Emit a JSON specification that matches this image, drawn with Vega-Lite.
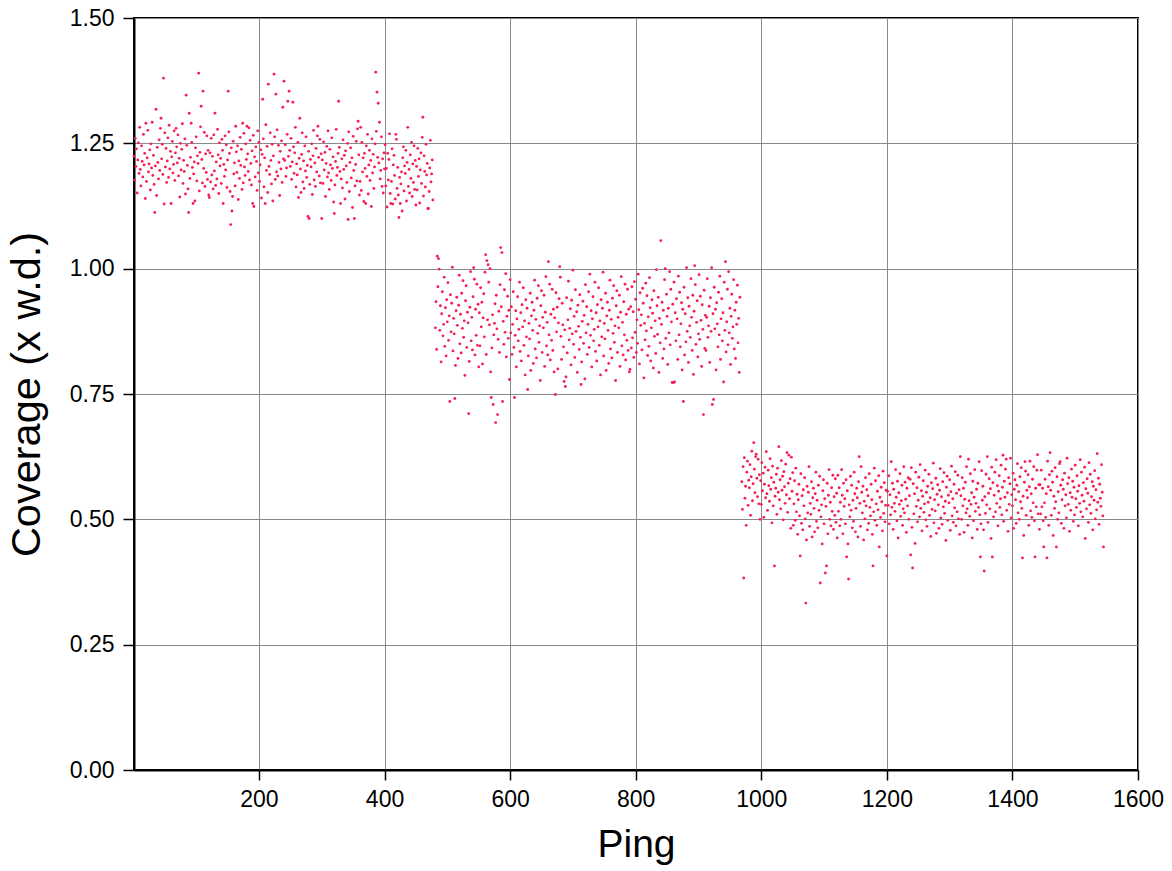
{"$schema":"https://vega.github.io/schema/vega-lite/v6.json","width":1004,"height":752,"autosize":{"type":"none"},"padding":{"left":134,"top":18,"right":34,"bottom":101},"background":"white","config":{"view":{"stroke":"black","strokeWidth":2},"font":"Liberation Sans"},
"data":{"values":[
{"p":1,"c":1.224},{"p":2,"c":1.177},{"p":3,"c":1.260},{"p":4,"c":1.204},{"p":5,"c":1.239},{"p":6,"c":1.151},{"p":7,"c":1.217},{"p":8,"c":1.251},{"p":9,"c":1.190},{"p":10,"c":1.282},
{"p":11,"c":1.198},{"p":12,"c":1.165},{"p":13,"c":1.245},{"p":14,"c":1.214},{"p":15,"c":1.183},{"p":16,"c":1.268},{"p":17,"c":1.207},{"p":18,"c":1.230},{"p":19,"c":1.140},{"p":20,"c":1.290},
{"p":21,"c":1.174},{"p":22,"c":1.221},{"p":23,"c":1.276},{"p":24,"c":1.193},{"p":25,"c":1.209},{"p":26,"c":1.237},{"p":27,"c":1.157},{"p":28,"c":1.249},{"p":29,"c":1.201},{"p":30,"c":1.292},
{"p":31,"c":1.186},{"p":32,"c":1.226},{"p":33,"c":1.168},{"p":34,"c":1.112},{"p":35,"c":1.205},{"p":36,"c":1.318},{"p":37,"c":1.146},{"p":38,"c":1.242},{"p":39,"c":1.212},{"p":40,"c":1.179},
{"p":41,"c":1.257},{"p":42,"c":1.196},{"p":43,"c":1.280},{"p":44,"c":1.300},{"p":45,"c":1.219},{"p":46,"c":1.248},{"p":47,"c":1.188},{"p":48,"c":1.380},{"p":49,"c":1.129},{"p":50,"c":1.271},
{"p":51,"c":1.203},{"p":52,"c":1.240},{"p":53,"c":1.172},{"p":54,"c":1.215},{"p":55,"c":1.261},{"p":56,"c":1.182},{"p":57,"c":1.286},{"p":58,"c":1.199},{"p":59,"c":1.234},{"p":60,"c":1.130},
{"p":61,"c":1.223},{"p":62,"c":1.254},{"p":63,"c":1.191},{"p":64,"c":1.208},{"p":65,"c":1.275},{"p":66,"c":1.176},{"p":67,"c":1.231},{"p":68,"c":1.280},{"p":69,"c":1.243},{"p":70,"c":1.211},
{"p":71,"c":1.267},{"p":72,"c":1.185},{"p":73,"c":1.220},{"p":74,"c":1.143},{"p":75,"c":1.250},{"p":76,"c":1.197},{"p":77,"c":1.238},{"p":78,"c":1.289},{"p":79,"c":1.170},{"p":80,"c":1.216},
{"p":81,"c":1.194},{"p":82,"c":1.259},{"p":83,"c":1.149},{"p":84,"c":1.346},{"p":85,"c":1.246},{"p":86,"c":1.206},{"p":87,"c":1.159},{"p":88,"c":1.112},{"p":89,"c":1.310},{"p":90,"c":1.180},
{"p":91,"c":1.222},{"p":92,"c":1.290},{"p":93,"c":1.252},{"p":94,"c":1.202},{"p":95,"c":1.130},{"p":96,"c":1.189},{"p":97,"c":1.213},{"p":98,"c":1.135},{"p":99,"c":1.241},{"p":100,"c":1.263},
{"p":101,"c":1.175},{"p":102,"c":1.225},{"p":103,"c":1.210},{"p":104,"c":1.390},{"p":105,"c":1.155},{"p":106,"c":1.232},{"p":107,"c":1.283},{"p":108,"c":1.324},{"p":109,"c":1.218},{"p":110,"c":1.171},
{"p":111,"c":1.354},{"p":112,"c":1.200},{"p":113,"c":1.272},{"p":114,"c":1.164},{"p":115,"c":1.229},{"p":116,"c":1.192},{"p":117,"c":1.265},{"p":118,"c":1.178},{"p":119,"c":1.236},{"p":120,"c":1.147},
{"p":121,"c":1.142},{"p":122,"c":1.231},{"p":123,"c":1.173},{"p":124,"c":1.260},{"p":125,"c":1.187},{"p":126,"c":1.224},{"p":127,"c":1.159},{"p":128,"c":1.267},{"p":129,"c":1.195},{"p":130,"c":1.310},
{"p":131,"c":1.166},{"p":132,"c":1.213},{"p":133,"c":1.179},{"p":134,"c":1.278},{"p":135,"c":1.227},{"p":136,"c":1.150},{"p":137,"c":1.251},{"p":138,"c":1.205},{"p":139,"c":1.220},{"p":140,"c":1.170},
{"p":141,"c":1.258},{"p":142,"c":1.236},{"p":143,"c":1.130},{"p":144,"c":1.208},{"p":145,"c":1.184},{"p":146,"c":1.265},{"p":147,"c":1.197},{"p":148,"c":1.247},{"p":149,"c":1.162},{"p":150,"c":1.217},
{"p":151,"c":1.354},{"p":152,"c":1.273},{"p":153,"c":1.230},{"p":154,"c":1.154},{"p":155,"c":1.088},{"p":156,"c":1.241},{"p":157,"c":1.115},{"p":158,"c":1.144},{"p":159,"c":1.254},{"p":160,"c":1.189},
{"p":161,"c":1.211},{"p":162,"c":1.165},{"p":163,"c":1.284},{"p":164,"c":1.233},{"p":165,"c":1.192},{"p":166,"c":1.245},{"p":167,"c":1.138},{"p":168,"c":1.215},{"p":169,"c":1.180},{"p":170,"c":1.262},
{"p":171,"c":1.206},{"p":172,"c":1.238},{"p":173,"c":1.158},{"p":174,"c":1.290},{"p":175,"c":1.171},{"p":176,"c":1.270},{"p":177,"c":1.203},{"p":178,"c":1.186},{"p":179,"c":1.249},{"p":180,"c":1.218},
{"p":181,"c":1.284},{"p":182,"c":1.229},{"p":183,"c":1.194},{"p":184,"c":1.281},{"p":185,"c":1.177},{"p":186,"c":1.256},{"p":187,"c":1.210},{"p":188,"c":1.167},{"p":189,"c":1.235},{"p":190,"c":1.130},
{"p":191,"c":1.266},{"p":192,"c":1.124},{"p":193,"c":1.223},{"p":194,"c":1.183},{"p":195,"c":1.243},{"p":196,"c":1.214},{"p":197,"c":1.156},{"p":198,"c":1.275},{"p":199,"c":1.191},{"p":200,"c":1.252},
{"p":201,"c":1.174},{"p":202,"c":1.207},{"p":203,"c":1.237},{"p":204,"c":1.141},{"p":205,"c":1.228},{"p":206,"c":1.338},{"p":207,"c":1.259},{"p":208,"c":1.163},{"p":209,"c":1.221},{"p":210,"c":1.130},
{"p":211,"c":1.287},{"p":212,"c":1.196},{"p":213,"c":1.244},{"p":214,"c":1.152},{"p":215,"c":1.368},{"p":216,"c":1.204},{"p":217,"c":1.188},{"p":218,"c":1.271},{"p":219,"c":1.216},{"p":220,"c":1.169},
{"p":221,"c":1.248},{"p":222,"c":1.135},{"p":223,"c":1.225},{"p":224,"c":1.388},{"p":225,"c":1.263},{"p":226,"c":1.178},{"p":227,"c":1.348},{"p":228,"c":1.193},{"p":229,"c":1.277},{"p":230,"c":1.185},
{"p":231,"c":1.246},{"p":232,"c":1.212},{"p":233,"c":1.146},{"p":234,"c":1.234},{"p":235,"c":1.199},{"p":236,"c":1.255},{"p":237,"c":1.172},{"p":238,"c":1.322},{"p":239,"c":1.219},{"p":240,"c":1.374},
{"p":241,"c":1.216},{"p":242,"c":1.247},{"p":243,"c":1.184},{"p":244,"c":1.201},{"p":245,"c":1.268},{"p":246,"c":1.334},{"p":247,"c":1.224},{"p":248,"c":1.354},{"p":249,"c":1.236},{"p":250,"c":1.204},
{"p":251,"c":1.260},{"p":252,"c":1.178},{"p":253,"c":1.213},{"p":254,"c":1.332},{"p":255,"c":1.243},{"p":256,"c":1.190},{"p":257,"c":1.231},{"p":258,"c":1.282},{"p":259,"c":1.163},{"p":260,"c":1.209},
{"p":261,"c":1.187},{"p":262,"c":1.252},{"p":263,"c":1.142},{"p":264,"c":1.220},{"p":265,"c":1.300},{"p":266,"c":1.199},{"p":267,"c":1.152},{"p":268,"c":1.228},{"p":269,"c":1.271},{"p":270,"c":1.173},
{"p":271,"c":1.215},{"p":272,"c":1.160},{"p":273,"c":1.245},{"p":274,"c":1.195},{"p":275,"c":1.263},{"p":276,"c":1.182},{"p":277,"c":1.206},{"p":278,"c":1.104},{"p":279,"c":1.234},{"p":280,"c":1.100},
{"p":281,"c":1.168},{"p":282,"c":1.218},{"p":283,"c":1.203},{"p":284,"c":1.249},{"p":285,"c":1.148},{"p":286,"c":1.225},{"p":287,"c":1.276},{"p":288,"c":1.177},{"p":289,"c":1.211},{"p":290,"c":1.164},
{"p":291,"c":1.240},{"p":292,"c":1.193},{"p":293,"c":1.265},{"p":294,"c":1.284},{"p":295,"c":1.222},{"p":296,"c":1.185},{"p":297,"c":1.258},{"p":298,"c":1.171},{"p":299,"c":1.229},{"p":300,"c":1.100},
{"p":301,"c":1.217},{"p":302,"c":1.170},{"p":303,"c":1.253},{"p":304,"c":1.197},{"p":305,"c":1.232},{"p":306,"c":1.144},{"p":307,"c":1.210},{"p":308,"c":1.244},{"p":309,"c":1.183},{"p":310,"c":1.275},
{"p":311,"c":1.191},{"p":312,"c":1.158},{"p":313,"c":1.238},{"p":314,"c":1.207},{"p":315,"c":1.176},{"p":316,"c":1.261},{"p":317,"c":1.200},{"p":318,"c":1.223},{"p":319,"c":1.133},{"p":320,"c":1.110},
{"p":321,"c":1.167},{"p":322,"c":1.214},{"p":323,"c":1.278},{"p":324,"c":1.186},{"p":325,"c":1.202},{"p":326,"c":1.230},{"p":327,"c":1.334},{"p":328,"c":1.242},{"p":329,"c":1.194},{"p":330,"c":1.130},
{"p":331,"c":1.179},{"p":332,"c":1.219},{"p":333,"c":1.161},{"p":334,"c":1.257},{"p":335,"c":1.198},{"p":336,"c":1.226},{"p":337,"c":1.139},{"p":338,"c":1.235},{"p":339,"c":1.205},{"p":340,"c":1.172},
{"p":341,"c":1.250},{"p":342,"c":1.098},{"p":343,"c":1.273},{"p":344,"c":1.154},{"p":345,"c":1.212},{"p":346,"c":1.241},{"p":347,"c":1.181},{"p":348,"c":1.221},{"p":349,"c":1.122},{"p":350,"c":1.264},
{"p":351,"c":1.196},{"p":352,"c":1.100},{"p":353,"c":1.165},{"p":354,"c":1.208},{"p":355,"c":1.254},{"p":356,"c":1.175},{"p":357,"c":1.279},{"p":358,"c":1.294},{"p":359,"c":1.227},{"p":360,"c":1.147},
{"p":361,"c":1.174},{"p":362,"c":1.282},{"p":363,"c":1.156},{"p":364,"c":1.252},{"p":365,"c":1.193},{"p":366,"c":1.221},{"p":367,"c":1.134},{"p":368,"c":1.230},{"p":369,"c":1.200},{"p":370,"c":1.130},
{"p":371,"c":1.245},{"p":372,"c":1.184},{"p":373,"c":1.268},{"p":374,"c":1.149},{"p":375,"c":1.207},{"p":376,"c":1.236},{"p":377,"c":1.176},{"p":378,"c":1.216},{"p":379,"c":1.124},{"p":380,"c":1.259},
{"p":381,"c":1.191},{"p":382,"c":1.228},{"p":383,"c":1.160},{"p":384,"c":1.203},{"p":385,"c":1.249},{"p":386,"c":1.392},{"p":387,"c":1.274},{"p":388,"c":1.352},{"p":389,"c":1.222},{"p":390,"c":1.330},
{"p":391,"c":1.211},{"p":392,"c":1.292},{"p":393,"c":1.179},{"p":394,"c":1.196},{"p":395,"c":1.263},{"p":396,"c":1.164},{"p":397,"c":1.219},{"p":398,"c":1.151},{"p":399,"c":1.231},{"p":400,"c":1.199},
{"p":401,"c":1.247},{"p":402,"c":1.165},{"p":403,"c":1.200},{"p":404,"c":1.123},{"p":405,"c":1.230},{"p":406,"c":1.177},{"p":407,"c":1.218},{"p":408,"c":1.269},{"p":409,"c":1.150},{"p":410,"c":1.130},
{"p":411,"c":1.174},{"p":412,"c":1.239},{"p":413,"c":1.129},{"p":414,"c":1.207},{"p":415,"c":1.226},{"p":416,"c":1.186},{"p":417,"c":1.139},{"p":418,"c":1.268},{"p":419,"c":1.258},{"p":420,"c":1.160},
{"p":421,"c":1.202},{"p":422,"c":1.147},{"p":423,"c":1.102},{"p":424,"c":1.182},{"p":425,"c":1.130},{"p":426,"c":1.169},{"p":427,"c":1.193},{"p":428,"c":1.115},{"p":429,"c":1.221},{"p":430,"c":1.243},
{"p":431,"c":1.155},{"p":432,"c":1.205},{"p":433,"c":1.190},{"p":434,"c":1.236},{"p":435,"c":1.135},{"p":436,"c":1.212},{"p":437,"c":1.282},{"p":438,"c":1.164},{"p":439,"c":1.198},{"p":440,"c":1.151},
{"p":441,"c":1.227},{"p":442,"c":1.180},{"p":443,"c":1.252},{"p":444,"c":1.144},{"p":445,"c":1.209},{"p":446,"c":1.172},{"p":447,"c":1.245},{"p":448,"c":1.158},{"p":449,"c":1.216},{"p":450,"c":1.127},
{"p":451,"c":1.204},{"p":452,"c":1.157},{"p":453,"c":1.240},{"p":454,"c":1.184},{"p":455,"c":1.219},{"p":456,"c":1.131},{"p":457,"c":1.197},{"p":458,"c":1.231},{"p":459,"c":1.170},{"p":460,"c":1.262},
{"p":461,"c":1.302},{"p":462,"c":1.145},{"p":463,"c":1.225},{"p":464,"c":1.194},{"p":465,"c":1.163},{"p":466,"c":1.248},{"p":467,"c":1.187},{"p":468,"c":1.210},{"p":469,"c":1.120},{"p":470,"c":1.120},
{"p":471,"c":1.154},{"p":472,"c":1.201},{"p":473,"c":1.256},{"p":474,"c":1.173},{"p":475,"c":1.189},{"p":476,"c":1.217},{"p":477,"c":1.137},
{"p":481,"c":0.882},{"p":482,"c":0.934},{"p":483,"c":0.839},{"p":484,"c":1.025},{"p":485,"c":0.964},{"p":486,"c":1.020},{"p":487,"c":0.999},{"p":488,"c":0.877},{"p":489,"c":0.926},{"p":490,"c":0.814},
{"p":491,"c":0.910},{"p":492,"c":0.954},{"p":493,"c":0.866},{"p":494,"c":0.889},{"p":495,"c":0.983},{"p":496,"c":0.845},{"p":497,"c":0.922},{"p":498,"c":0.826},{"p":499,"c":0.938},{"p":500,"c":0.894},
{"p":501,"c":0.972},{"p":502,"c":0.857},{"p":503,"c":0.906},{"p":504,"c":0.735},{"p":505,"c":0.948},{"p":506,"c":0.874},{"p":507,"c":0.931},{"p":508,"c":1.003},{"p":509,"c":0.836},{"p":510,"c":0.901},
{"p":511,"c":0.870},{"p":512,"c":0.741},{"p":513,"c":0.807},{"p":514,"c":0.916},{"p":515,"c":0.943},{"p":516,"c":0.887},{"p":517,"c":0.821},{"p":518,"c":0.927},{"p":519,"c":0.987},{"p":520,"c":0.850},
{"p":521,"c":0.909},{"p":522,"c":0.832},{"p":523,"c":0.951},{"p":524,"c":0.881},{"p":525,"c":0.976},{"p":526,"c":0.863},{"p":527,"c":0.896},{"p":528,"c":0.787},{"p":529,"c":0.936},{"p":530,"c":0.966},
{"p":531,"c":0.843},{"p":532,"c":0.913},{"p":533,"c":0.892},{"p":534,"c":0.711},{"p":535,"c":0.815},{"p":536,"c":0.923},{"p":537,"c":0.994},{"p":538,"c":0.856},{"p":539,"c":0.903},{"p":540,"c":0.838},
{"p":541,"c":0.944},{"p":542,"c":1.002},{"p":543,"c":0.979},{"p":544,"c":0.828},{"p":545,"c":0.919},{"p":546,"c":0.867},{"p":547,"c":0.969},{"p":548,"c":0.847},{"p":549,"c":0.929},{"p":550,"c":0.804},
{"p":551,"c":0.912},{"p":552,"c":0.846},{"p":553,"c":0.962},{"p":554,"c":0.884},{"p":555,"c":0.933},{"p":556,"c":0.810},{"p":557,"c":0.902},{"p":558,"c":0.950},{"p":559,"c":0.864},{"p":560,"c":0.993},
{"p":561,"c":1.028},{"p":562,"c":0.829},{"p":563,"c":1.016},{"p":564,"c":0.898},{"p":565,"c":1.008},{"p":566,"c":0.973},{"p":567,"c":0.888},{"p":568,"c":1.000},{"p":569,"c":0.794},{"p":570,"c":0.743},
{"p":571,"c":0.842},{"p":572,"c":0.908},{"p":573,"c":0.729},{"p":574,"c":0.868},{"p":575,"c":0.891},{"p":576,"c":0.930},{"p":577,"c":0.693},{"p":578,"c":0.947},{"p":579,"c":0.880},{"p":580,"c":0.709},
{"p":581,"c":0.859},{"p":582,"c":0.915},{"p":583,"c":0.833},{"p":584,"c":0.968},{"p":585,"c":1.042},{"p":586,"c":0.924},{"p":587,"c":1.032},{"p":588,"c":0.735},{"p":589,"c":0.895},{"p":590,"c":0.849},
{"p":591,"c":0.958},{"p":592,"c":0.873},{"p":593,"c":0.990},{"p":594,"c":0.824},{"p":595,"c":0.905},{"p":596,"c":0.945},{"p":597,"c":0.861},{"p":598,"c":0.917},{"p":599,"c":0.779},{"p":600,"c":0.978},
{"p":601,"c":0.872},{"p":602,"c":0.924},{"p":603,"c":0.829},{"p":604,"c":0.889},{"p":605,"c":0.954},{"p":606,"c":0.843},{"p":607,"c":0.743},{"p":608,"c":0.867},{"p":609,"c":0.916},{"p":610,"c":0.804},
{"p":611,"c":0.900},{"p":612,"c":0.944},{"p":613,"c":0.856},{"p":614,"c":0.879},{"p":615,"c":0.973},{"p":616,"c":0.835},{"p":617,"c":0.912},{"p":618,"c":0.816},{"p":619,"c":0.928},{"p":620,"c":0.884},
{"p":621,"c":0.962},{"p":622,"c":0.847},{"p":623,"c":0.896},{"p":624,"c":0.788},{"p":625,"c":0.938},{"p":626,"c":0.864},{"p":627,"c":0.921},{"p":628,"c":0.759},{"p":629,"c":0.826},{"p":630,"c":0.891},
{"p":631,"c":0.860},{"p":632,"c":0.951},{"p":633,"c":0.797},{"p":634,"c":0.906},{"p":635,"c":0.933},{"p":636,"c":0.877},{"p":637,"c":0.811},{"p":638,"c":0.917},{"p":639,"c":0.977},{"p":640,"c":0.840},
{"p":641,"c":0.899},{"p":642,"c":0.822},{"p":643,"c":0.941},{"p":644,"c":0.871},{"p":645,"c":0.966},{"p":646,"c":0.853},{"p":647,"c":0.886},{"p":648,"c":0.777},{"p":649,"c":0.926},{"p":650,"c":0.956},
{"p":651,"c":0.833},{"p":652,"c":0.903},{"p":653,"c":0.882},{"p":654,"c":0.947},{"p":655,"c":0.805},{"p":656,"c":0.913},{"p":657,"c":0.984},{"p":658,"c":0.846},{"p":659,"c":0.893},{"p":660,"c":0.828},
{"p":661,"c":1.014},{"p":662,"c":0.868},{"p":663,"c":0.969},{"p":664,"c":0.818},{"p":665,"c":0.909},{"p":666,"c":0.857},{"p":667,"c":0.959},{"p":668,"c":0.837},{"p":669,"c":0.919},{"p":670,"c":0.794},
{"p":671,"c":0.902},{"p":672,"c":0.749},{"p":673,"c":0.952},{"p":674,"c":0.874},{"p":675,"c":0.923},{"p":676,"c":0.800},{"p":677,"c":0.892},{"p":678,"c":0.940},{"p":679,"c":1.004},{"p":680,"c":0.983},
{"p":681,"c":0.865},{"p":682,"c":0.819},{"p":683,"c":0.931},{"p":684,"c":0.888},{"p":685,"c":0.844},{"p":686,"c":0.775},{"p":687,"c":0.878},{"p":688,"c":0.765},{"p":689,"c":0.784},{"p":690,"c":0.942},
{"p":691,"c":0.832},{"p":692,"c":0.898},{"p":693,"c":0.975},{"p":694,"c":0.858},{"p":695,"c":0.881},{"p":696,"c":0.920},{"p":697,"c":0.808},{"p":698,"c":0.937},{"p":699,"c":0.870},{"p":700,"c":0.997},
{"p":701,"c":0.849},{"p":702,"c":0.905},{"p":703,"c":0.823},{"p":704,"c":0.958},{"p":705,"c":0.875},{"p":706,"c":0.914},{"p":707,"c":0.793},{"p":708,"c":0.927},{"p":709,"c":0.885},{"p":710,"c":0.839},
{"p":711,"c":0.948},{"p":712,"c":0.863},{"p":713,"c":0.769},{"p":714,"c":0.814},{"p":715,"c":0.895},{"p":716,"c":0.935},{"p":717,"c":0.851},{"p":718,"c":0.907},{"p":719,"c":0.780},{"p":720,"c":0.968},
{"p":721,"c":0.872},{"p":722,"c":0.924},{"p":723,"c":0.829},{"p":724,"c":0.889},{"p":725,"c":0.954},{"p":726,"c":0.843},{"p":727,"c":0.989},{"p":728,"c":0.867},{"p":729,"c":0.916},{"p":730,"c":0.804},
{"p":731,"c":0.900},{"p":732,"c":0.944},{"p":733,"c":0.856},{"p":734,"c":0.879},{"p":735,"c":0.973},{"p":736,"c":0.835},{"p":737,"c":0.912},{"p":738,"c":0.816},{"p":739,"c":0.928},{"p":740,"c":0.884},
{"p":741,"c":0.962},{"p":742,"c":0.847},{"p":743,"c":0.896},{"p":744,"c":0.788},{"p":745,"c":0.938},{"p":746,"c":0.864},{"p":747,"c":0.921},{"p":748,"c":0.993},{"p":749,"c":0.826},{"p":750,"c":0.891},
{"p":751,"c":0.860},{"p":752,"c":0.951},{"p":753,"c":0.797},{"p":754,"c":0.906},{"p":755,"c":0.933},{"p":756,"c":0.877},{"p":757,"c":0.811},{"p":758,"c":0.917},{"p":759,"c":0.977},{"p":760,"c":0.840},
{"p":761,"c":0.899},{"p":762,"c":0.822},{"p":763,"c":0.941},{"p":764,"c":0.871},{"p":765,"c":0.966},{"p":766,"c":0.853},{"p":767,"c":0.886},{"p":768,"c":0.777},{"p":769,"c":0.926},{"p":770,"c":0.956},
{"p":771,"c":0.833},{"p":772,"c":0.903},{"p":773,"c":0.882},{"p":774,"c":0.947},{"p":775,"c":0.805},{"p":776,"c":0.913},{"p":777,"c":0.984},{"p":778,"c":0.846},{"p":779,"c":0.893},{"p":780,"c":0.828},
{"p":781,"c":0.934},{"p":782,"c":0.868},{"p":783,"c":0.969},{"p":784,"c":0.818},{"p":785,"c":0.909},{"p":786,"c":0.857},{"p":787,"c":0.959},{"p":788,"c":0.837},{"p":789,"c":0.919},{"p":790,"c":0.794},
{"p":791,"c":0.799},{"p":792,"c":0.924},{"p":793,"c":0.842},{"p":794,"c":0.964},{"p":795,"c":0.862},{"p":796,"c":0.914},{"p":797,"c":0.823},{"p":798,"c":0.974},{"p":799,"c":0.873},{"p":800,"c":0.939},
{"p":801,"c":0.833},{"p":802,"c":0.898},{"p":803,"c":0.851},{"p":804,"c":0.989},{"p":805,"c":0.918},{"p":806,"c":0.810},{"p":807,"c":0.952},{"p":808,"c":0.887},{"p":809,"c":0.908},{"p":810,"c":0.838},
{"p":811,"c":0.961},{"p":812,"c":0.931},{"p":813,"c":0.782},{"p":814,"c":0.891},{"p":815,"c":0.858},{"p":816,"c":0.971},{"p":817,"c":0.876},{"p":818,"c":0.946},{"p":819,"c":0.827},{"p":820,"c":0.904},
{"p":821,"c":0.845},{"p":822,"c":0.982},{"p":823,"c":0.922},{"p":824,"c":0.816},{"p":825,"c":0.882},{"p":826,"c":0.938},{"p":827,"c":0.911},{"p":828,"c":0.802},{"p":829,"c":0.956},{"p":830,"c":0.865},
{"p":831,"c":0.896},{"p":832,"c":0.831},{"p":833,"c":0.998},{"p":834,"c":0.926},{"p":835,"c":0.869},{"p":836,"c":0.943},{"p":837,"c":0.793},{"p":838,"c":0.901},{"p":839,"c":0.852},{"p":840,"c":1.056},
{"p":841,"c":0.889},{"p":842,"c":0.933},{"p":843,"c":0.821},{"p":844,"c":0.917},{"p":845,"c":0.840},{"p":846,"c":0.978},{"p":847,"c":1.000},{"p":848,"c":0.861},{"p":849,"c":0.949},{"p":850,"c":0.905},
{"p":851,"c":0.809},{"p":852,"c":0.921},{"p":853,"c":0.872},{"p":854,"c":0.994},{"p":855,"c":0.848},{"p":856,"c":0.959},{"p":857,"c":0.894},{"p":858,"c":0.773},{"p":859,"c":0.929},{"p":860,"c":0.773},
{"p":861,"c":0.973},{"p":862,"c":0.774},{"p":863,"c":0.912},{"p":864,"c":0.856},{"p":865,"c":0.940},{"p":866,"c":0.900},{"p":867,"c":0.819},{"p":868,"c":0.985},{"p":869,"c":0.868},{"p":870,"c":0.953},
{"p":871,"c":0.844},{"p":872,"c":0.890},{"p":873,"c":0.932},{"p":874,"c":0.798},{"p":875,"c":0.919},{"p":876,"c":0.735},{"p":877,"c":0.963},{"p":878,"c":0.828},{"p":879,"c":0.910},{"p":880,"c":0.854},
{"p":881,"c":1.002},{"p":882,"c":0.875},{"p":883,"c":0.942},{"p":884,"c":0.813},{"p":885,"c":0.925},{"p":886,"c":0.886},{"p":887,"c":0.863},{"p":888,"c":0.980},{"p":889,"c":0.903},{"p":890,"c":0.837},
{"p":891,"c":0.947},{"p":892,"c":0.789},{"p":893,"c":0.915},{"p":894,"c":1.006},{"p":895,"c":0.968},{"p":896,"c":0.849},{"p":897,"c":0.893},{"p":898,"c":0.936},{"p":899,"c":0.824},{"p":900,"c":0.870},
{"p":901,"c":0.988},{"p":902,"c":0.859},{"p":903,"c":0.945},{"p":904,"c":0.897},{"p":905,"c":0.805},{"p":906,"c":0.928},{"p":907,"c":0.879},{"p":908,"c":0.709},{"p":909,"c":0.957},{"p":910,"c":0.841},
{"p":911,"c":0.907},{"p":912,"c":0.837},{"p":913,"c":0.903},{"p":914,"c":0.980},{"p":915,"c":0.863},{"p":916,"c":0.886},{"p":917,"c":0.925},{"p":918,"c":0.813},{"p":919,"c":0.942},{"p":920,"c":0.875},
{"p":921,"c":1.002},{"p":922,"c":0.729},{"p":923,"c":0.910},{"p":924,"c":0.739},{"p":925,"c":0.963},{"p":926,"c":0.880},{"p":927,"c":0.919},{"p":928,"c":0.798},{"p":929,"c":0.932},{"p":930,"c":0.890},
{"p":931,"c":0.844},{"p":932,"c":0.953},{"p":933,"c":0.868},{"p":934,"c":0.985},{"p":935,"c":0.819},{"p":936,"c":0.900},{"p":937,"c":0.940},{"p":938,"c":0.856},{"p":939,"c":0.912},{"p":940,"c":0.774},
{"p":941,"c":0.973},{"p":942,"c":0.877},{"p":943,"c":1.014},{"p":944,"c":0.834},{"p":945,"c":0.894},{"p":946,"c":0.959},{"p":947,"c":0.848},{"p":948,"c":0.994},{"p":949,"c":0.872},{"p":950,"c":0.921},
{"p":951,"c":0.809},{"p":952,"c":0.905},{"p":953,"c":0.949},{"p":954,"c":0.861},{"p":955,"c":0.884},{"p":956,"c":0.978},{"p":957,"c":0.840},{"p":958,"c":0.917},{"p":959,"c":0.821},{"p":960,"c":0.933},
{"p":961,"c":0.889},{"p":962,"c":0.967},{"p":963,"c":0.852},{"p":964,"c":0.901},{"p":965,"c":0.793},{"p":966,"c":0.943},
{"p":969,"c":0.575},{"p":970,"c":0.520},{"p":971,"c":0.605},{"p":972,"c":0.383},{"p":973,"c":0.623},{"p":974,"c":0.542},{"p":975,"c":0.566},{"p":976,"c":0.488},{"p":977,"c":0.594},{"p":978,"c":0.616},
{"p":979,"c":0.528},{"p":980,"c":0.578},{"p":981,"c":0.563},{"p":982,"c":0.609},{"p":983,"c":0.508},{"p":984,"c":0.585},{"p":985,"c":0.636},{"p":986,"c":0.537},{"p":987,"c":0.571},{"p":988,"c":0.653},
{"p":989,"c":0.600},{"p":990,"c":0.553},{"p":991,"c":0.625},{"p":992,"c":0.630},{"p":993,"c":0.582},{"p":994,"c":0.545},{"p":995,"c":0.620},{"p":996,"c":0.531},{"p":997,"c":0.589},{"p":998,"c":0.500},
{"p":999,"c":0.577},{"p":1000,"c":0.530},{"p":1001,"c":0.613},{"p":1002,"c":0.557},{"p":1003,"c":0.592},{"p":1004,"c":0.504},{"p":1005,"c":0.570},{"p":1006,"c":0.604},{"p":1007,"c":0.543},{"p":1008,"c":0.635},
{"p":1009,"c":0.551},{"p":1010,"c":0.518},{"p":1011,"c":0.598},{"p":1012,"c":0.567},{"p":1013,"c":0.536},{"p":1014,"c":0.621},{"p":1015,"c":0.560},{"p":1016,"c":0.583},{"p":1017,"c":0.493},{"p":1018,"c":0.606},
{"p":1019,"c":0.527},{"p":1020,"c":0.574},{"p":1021,"c":0.407},{"p":1022,"c":0.546},{"p":1023,"c":0.562},{"p":1024,"c":0.590},{"p":1025,"c":0.510},{"p":1026,"c":0.602},{"p":1027,"c":0.554},{"p":1028,"c":0.645},
{"p":1029,"c":0.539},{"p":1030,"c":0.579},{"p":1031,"c":0.521},{"p":1032,"c":0.617},{"p":1033,"c":0.558},{"p":1034,"c":0.586},{"p":1035,"c":0.499},{"p":1036,"c":0.595},{"p":1037,"c":0.565},{"p":1038,"c":0.532},
{"p":1039,"c":0.610},{"p":1040,"c":0.549},{"p":1041,"c":0.633},{"p":1042,"c":0.514},{"p":1043,"c":0.572},{"p":1044,"c":0.628},{"p":1045,"c":0.541},{"p":1046,"c":0.581},{"p":1047,"c":0.482},{"p":1048,"c":0.624},
{"p":1049,"c":0.556},{"p":1050,"c":0.593},{"p":1051,"c":0.488},{"p":1052,"c":0.531},{"p":1053,"c":0.577},{"p":1054,"c":0.498},{"p":1055,"c":0.602},{"p":1056,"c":0.515},{"p":1057,"c":0.550},{"p":1058,"c":0.470},
{"p":1059,"c":0.539},{"p":1060,"c":0.570},{"p":1061,"c":0.507},{"p":1062,"c":0.427},{"p":1063,"c":0.591},{"p":1064,"c":0.492},{"p":1065,"c":0.547},{"p":1066,"c":0.479},{"p":1067,"c":0.559},{"p":1068,"c":0.527},
{"p":1069,"c":0.583},{"p":1070,"c":0.501},{"p":1071,"c":0.333},{"p":1072,"c":0.459},{"p":1073,"c":0.566},{"p":1074,"c":0.513},{"p":1075,"c":0.554},{"p":1076,"c":0.605},{"p":1077,"c":0.486},{"p":1078,"c":0.532},
{"p":1079,"c":0.510},{"p":1080,"c":0.575},{"p":1081,"c":0.465},{"p":1082,"c":0.543},{"p":1083,"c":0.562},{"p":1084,"c":0.522},{"p":1085,"c":0.475},{"p":1086,"c":0.551},{"p":1087,"c":0.594},{"p":1088,"c":0.496},
{"p":1089,"c":0.538},{"p":1090,"c":0.483},{"p":1091,"c":0.568},{"p":1092,"c":0.518},{"p":1093,"c":0.586},{"p":1094,"c":0.373},{"p":1095,"c":0.505},{"p":1096,"c":0.529},{"p":1097,"c":0.451},{"p":1098,"c":0.557},
{"p":1099,"c":0.579},{"p":1100,"c":0.491},{"p":1101,"c":0.541},{"p":1102,"c":0.393},{"p":1103,"c":0.526},{"p":1104,"c":0.407},{"p":1105,"c":0.572},{"p":1106,"c":0.471},{"p":1107,"c":0.548},{"p":1108,"c":0.599},
{"p":1109,"c":0.500},{"p":1110,"c":0.534},{"p":1111,"c":0.487},{"p":1112,"c":0.563},{"p":1113,"c":0.516},{"p":1114,"c":0.588},{"p":1115,"c":0.480},{"p":1116,"c":0.545},{"p":1117,"c":0.508},{"p":1118,"c":0.581},
{"p":1119,"c":0.494},{"p":1120,"c":0.552},{"p":1121,"c":0.463},{"p":1122,"c":0.588},{"p":1123,"c":0.516},{"p":1124,"c":0.563},{"p":1125,"c":0.487},{"p":1126,"c":0.534},{"p":1127,"c":0.500},{"p":1128,"c":0.599},
{"p":1129,"c":0.548},{"p":1130,"c":0.471},{"p":1131,"c":0.572},{"p":1132,"c":0.526},{"p":1133,"c":0.541},{"p":1134,"c":0.491},{"p":1135,"c":0.579},{"p":1136,"c":0.425},{"p":1137,"c":0.557},{"p":1138,"c":0.451},
{"p":1139,"c":0.381},{"p":1140,"c":0.529},{"p":1141,"c":0.505},{"p":1142,"c":0.586},{"p":1143,"c":0.518},{"p":1144,"c":0.568},{"p":1145,"c":0.483},{"p":1146,"c":0.538},{"p":1147,"c":0.496},{"p":1148,"c":0.594},
{"p":1149,"c":0.551},{"p":1150,"c":0.475},{"p":1151,"c":0.522},{"p":1152,"c":0.562},{"p":1153,"c":0.543},{"p":1154,"c":0.465},{"p":1155,"c":0.575},{"p":1156,"c":0.625},{"p":1157,"c":0.532},{"p":1158,"c":0.486},
{"p":1159,"c":0.605},{"p":1160,"c":0.554},{"p":1161,"c":0.513},{"p":1162,"c":0.566},{"p":1163,"c":0.459},{"p":1164,"c":0.536},{"p":1165,"c":0.501},{"p":1166,"c":0.583},{"p":1167,"c":0.527},{"p":1168,"c":0.559},
{"p":1169,"c":0.479},{"p":1170,"c":0.547},{"p":1171,"c":0.492},{"p":1172,"c":0.591},{"p":1173,"c":0.524},{"p":1174,"c":0.507},{"p":1175,"c":0.570},{"p":1176,"c":0.539},{"p":1177,"c":0.470},{"p":1178,"c":0.407},
{"p":1179,"c":0.515},{"p":1180,"c":0.602},{"p":1181,"c":0.498},{"p":1182,"c":0.577},{"p":1183,"c":0.531},{"p":1184,"c":0.488},{"p":1185,"c":0.556},{"p":1186,"c":0.519},{"p":1187,"c":0.587},{"p":1188,"c":0.445},
{"p":1189,"c":0.544},{"p":1190,"c":0.504},{"p":1191,"c":0.564},{"p":1192,"c":0.535},{"p":1193,"c":0.477},{"p":1194,"c":0.596},{"p":1195,"c":0.512},{"p":1196,"c":0.573},{"p":1197,"c":0.495},{"p":1198,"c":0.528},
{"p":1199,"c":0.558},{"p":1200,"c":0.427},{"p":1201,"c":0.556},{"p":1202,"c":0.528},{"p":1203,"c":0.587},{"p":1204,"c":0.491},{"p":1205,"c":0.549},{"p":1206,"c":0.509},{"p":1207,"c":0.615},{"p":1208,"c":0.524},
{"p":1209,"c":0.572},{"p":1210,"c":0.480},{"p":1211,"c":0.560},{"p":1212,"c":0.532},{"p":1213,"c":0.516},{"p":1214,"c":0.599},{"p":1215,"c":0.544},{"p":1216,"c":0.497},{"p":1217,"c":0.576},{"p":1218,"c":0.463},
{"p":1219,"c":0.553},{"p":1220,"c":0.530},{"p":1221,"c":0.591},{"p":1222,"c":0.506},{"p":1223,"c":0.537},{"p":1224,"c":0.568},{"p":1225,"c":0.488},{"p":1226,"c":0.521},{"p":1227,"c":0.605},{"p":1228,"c":0.513},
{"p":1229,"c":0.574},{"p":1230,"c":0.540},{"p":1231,"c":0.474},{"p":1232,"c":0.562},{"p":1233,"c":0.527},{"p":1234,"c":0.583},{"p":1235,"c":0.500},{"p":1236,"c":0.547},{"p":1237,"c":0.580},{"p":1238,"c":0.429},
{"p":1239,"c":0.603},{"p":1240,"c":0.484},{"p":1241,"c":0.403},{"p":1242,"c":0.571},{"p":1243,"c":0.511},{"p":1244,"c":0.551},{"p":1245,"c":0.452},{"p":1246,"c":0.594},{"p":1247,"c":0.526},{"p":1248,"c":0.563},
{"p":1249,"c":0.495},{"p":1250,"c":0.538},{"p":1251,"c":0.584},{"p":1252,"c":0.505},{"p":1253,"c":0.609},{"p":1254,"c":0.522},{"p":1255,"c":0.557},{"p":1256,"c":0.477},{"p":1257,"c":0.546},{"p":1258,"c":0.577},
{"p":1259,"c":0.514},{"p":1260,"c":0.531},{"p":1261,"c":0.598},{"p":1262,"c":0.499},{"p":1263,"c":0.554},{"p":1264,"c":0.486},{"p":1265,"c":0.566},{"p":1266,"c":0.534},{"p":1267,"c":0.590},{"p":1268,"c":0.508},
{"p":1269,"c":0.543},{"p":1270,"c":0.466},{"p":1271,"c":0.573},{"p":1272,"c":0.520},{"p":1273,"c":0.561},{"p":1274,"c":0.612},{"p":1275,"c":0.493},{"p":1276,"c":0.539},{"p":1277,"c":0.517},{"p":1278,"c":0.582},
{"p":1279,"c":0.472},{"p":1280,"c":0.550},{"p":1281,"c":0.569},{"p":1282,"c":0.529},{"p":1283,"c":0.482},{"p":1284,"c":0.558},{"p":1285,"c":0.601},{"p":1286,"c":0.503},{"p":1287,"c":0.545},{"p":1288,"c":0.490},
{"p":1289,"c":0.575},{"p":1290,"c":0.525},{"p":1291,"c":0.593},{"p":1292,"c":0.512},{"p":1293,"c":0.536},{"p":1294,"c":0.458},{"p":1295,"c":0.564},{"p":1296,"c":0.586},{"p":1297,"c":0.498},{"p":1298,"c":0.548},
{"p":1299,"c":0.533},{"p":1300,"c":0.579},{"p":1301,"c":0.478},{"p":1302,"c":0.555},{"p":1303,"c":0.606},{"p":1304,"c":0.507},{"p":1305,"c":0.541},{"p":1306,"c":0.494},{"p":1307,"c":0.570},{"p":1308,"c":0.523},
{"p":1309,"c":0.595},{"p":1310,"c":0.487},{"p":1311,"c":0.552},{"p":1312,"c":0.515},{"p":1313,"c":0.588},{"p":1314,"c":0.501},{"p":1315,"c":0.559},{"p":1316,"c":0.470},{"p":1317,"c":0.625},{"p":1318,"c":0.547},
{"p":1319,"c":0.500},{"p":1320,"c":0.583},{"p":1321,"c":0.527},{"p":1322,"c":0.562},{"p":1323,"c":0.474},{"p":1324,"c":0.540},{"p":1325,"c":0.574},{"p":1326,"c":0.513},{"p":1327,"c":0.605},{"p":1328,"c":0.521},
{"p":1329,"c":0.488},{"p":1330,"c":0.620},{"p":1331,"c":0.537},{"p":1332,"c":0.506},{"p":1333,"c":0.591},{"p":1334,"c":0.530},{"p":1335,"c":0.553},{"p":1336,"c":0.463},{"p":1337,"c":0.576},{"p":1338,"c":0.497},
{"p":1339,"c":0.544},{"p":1340,"c":0.599},{"p":1341,"c":0.516},{"p":1342,"c":0.532},{"p":1343,"c":0.560},{"p":1344,"c":0.480},{"p":1345,"c":0.572},{"p":1346,"c":0.524},{"p":1347,"c":0.615},{"p":1348,"c":0.509},
{"p":1349,"c":0.425},{"p":1350,"c":0.491},{"p":1351,"c":0.597},{"p":1352,"c":0.538},{"p":1353,"c":0.566},{"p":1354,"c":0.479},{"p":1355,"c":0.397},{"p":1356,"c":0.545},{"p":1357,"c":0.512},{"p":1358,"c":0.590},
{"p":1359,"c":0.529},{"p":1360,"c":0.625},{"p":1361,"c":0.494},{"p":1362,"c":0.552},{"p":1363,"c":0.581},{"p":1364,"c":0.521},{"p":1365,"c":0.561},{"p":1366,"c":0.462},{"p":1367,"c":0.604},{"p":1368,"c":0.425},
{"p":1369,"c":0.573},{"p":1370,"c":0.505},{"p":1371,"c":0.548},{"p":1372,"c":0.594},{"p":1373,"c":0.515},{"p":1374,"c":0.619},{"p":1375,"c":0.532},{"p":1376,"c":0.567},{"p":1377,"c":0.487},{"p":1378,"c":0.556},
{"p":1379,"c":0.587},{"p":1380,"c":0.524},{"p":1381,"c":0.541},{"p":1382,"c":0.608},{"p":1383,"c":0.509},{"p":1384,"c":0.564},{"p":1385,"c":0.628},{"p":1386,"c":0.496},{"p":1387,"c":0.576},{"p":1388,"c":0.544},
{"p":1389,"c":0.600},{"p":1390,"c":0.620},{"p":1391,"c":0.518},{"p":1392,"c":0.553},{"p":1393,"c":0.476},{"p":1394,"c":0.583},{"p":1395,"c":0.530},{"p":1396,"c":0.571},{"p":1397,"c":0.622},{"p":1398,"c":0.503},
{"p":1399,"c":0.549},{"p":1400,"c":0.527},{"p":1401,"c":0.592},{"p":1402,"c":0.482},{"p":1403,"c":0.560},{"p":1404,"c":0.579},{"p":1405,"c":0.539},{"p":1406,"c":0.492},{"p":1407,"c":0.568},{"p":1408,"c":0.611},
{"p":1409,"c":0.513},{"p":1410,"c":0.555},{"p":1411,"c":0.500},{"p":1412,"c":0.585},{"p":1413,"c":0.535},{"p":1414,"c":0.603},{"p":1415,"c":0.522},{"p":1416,"c":0.423},{"p":1417,"c":0.546},{"p":1418,"c":0.468},
{"p":1419,"c":0.574},{"p":1420,"c":0.615},{"p":1421,"c":0.596},{"p":1422,"c":0.508},{"p":1423,"c":0.558},{"p":1424,"c":0.543},{"p":1425,"c":0.589},{"p":1426,"c":0.488},{"p":1427,"c":0.565},{"p":1428,"c":0.616},
{"p":1429,"c":0.517},{"p":1430,"c":0.551},{"p":1431,"c":0.504},{"p":1432,"c":0.580},{"p":1433,"c":0.533},{"p":1434,"c":0.605},{"p":1435,"c":0.497},{"p":1436,"c":0.425},{"p":1437,"c":0.562},{"p":1438,"c":0.525},
{"p":1439,"c":0.598},{"p":1440,"c":0.629},{"p":1441,"c":0.511},{"p":1442,"c":0.569},{"p":1443,"c":0.480},{"p":1444,"c":0.569},{"p":1445,"c":0.511},{"p":1446,"c":0.598},{"p":1447,"c":0.525},{"p":1448,"c":0.562},
{"p":1449,"c":0.497},{"p":1450,"c":0.445},{"p":1451,"c":0.533},{"p":1452,"c":0.580},{"p":1453,"c":0.504},{"p":1454,"c":0.551},{"p":1455,"c":0.423},{"p":1456,"c":0.616},{"p":1457,"c":0.565},{"p":1458,"c":0.488},
{"p":1459,"c":0.589},{"p":1460,"c":0.633},{"p":1461,"c":0.558},{"p":1462,"c":0.508},{"p":1463,"c":0.596},{"p":1464,"c":0.574},{"p":1465,"c":0.468},{"p":1466,"c":0.546},{"p":1467,"c":0.522},{"p":1468,"c":0.603},
{"p":1469,"c":0.535},{"p":1470,"c":0.445},{"p":1471,"c":0.585},{"p":1472,"c":0.500},{"p":1473,"c":0.555},{"p":1474,"c":0.513},{"p":1475,"c":0.611},{"p":1476,"c":0.615},{"p":1477,"c":0.568},{"p":1478,"c":0.492},
{"p":1479,"c":0.539},{"p":1480,"c":0.579},{"p":1481,"c":0.560},{"p":1482,"c":0.482},{"p":1483,"c":0.592},{"p":1484,"c":0.527},{"p":1485,"c":0.549},{"p":1486,"c":0.503},{"p":1487,"c":0.622},{"p":1488,"c":0.571},
{"p":1489,"c":0.530},{"p":1490,"c":0.583},{"p":1491,"c":0.476},{"p":1492,"c":0.553},{"p":1493,"c":0.518},{"p":1494,"c":0.600},{"p":1495,"c":0.544},{"p":1496,"c":0.576},{"p":1497,"c":0.496},{"p":1498,"c":0.564},
{"p":1499,"c":0.509},{"p":1500,"c":0.608},{"p":1501,"c":0.541},{"p":1502,"c":0.524},{"p":1503,"c":0.587},{"p":1504,"c":0.556},{"p":1505,"c":0.487},{"p":1506,"c":0.567},{"p":1507,"c":0.532},{"p":1508,"c":0.619},
{"p":1509,"c":0.515},{"p":1510,"c":0.594},{"p":1511,"c":0.548},{"p":1512,"c":0.505},{"p":1513,"c":0.573},{"p":1514,"c":0.536},{"p":1515,"c":0.604},{"p":1516,"c":0.462},{"p":1517,"c":0.561},{"p":1518,"c":0.521},
{"p":1519,"c":0.581},{"p":1520,"c":0.552},{"p":1521,"c":0.494},{"p":1522,"c":0.613},{"p":1523,"c":0.529},{"p":1524,"c":0.590},{"p":1525,"c":0.512},{"p":1526,"c":0.545},{"p":1527,"c":0.575},{"p":1528,"c":0.479},
{"p":1529,"c":0.566},{"p":1530,"c":0.538},{"p":1531,"c":0.597},{"p":1532,"c":0.501},{"p":1533,"c":0.559},{"p":1534,"c":0.519},{"p":1535,"c":0.631},{"p":1536,"c":0.534},{"p":1537,"c":0.582},{"p":1538,"c":0.490},
{"p":1539,"c":0.570},{"p":1540,"c":0.542},{"p":1541,"c":0.526},{"p":1542,"c":0.609},{"p":1543,"c":0.554},{"p":1544,"c":0.507},{"p":1545,"c":0.445}
]},
"mark":{"type":"circle","size":8,"color":"#f51e55","opacity":1},
"encoding":{
"x":{"field":"p","type":"quantitative","scale":{"domain":[1,1600],"nice":false,"zero":false},"axis":{"title":"Ping","values":[200,400,600,800,1000,1200,1400,1600],"format":"d","labelFlush":false,"labelOverlap":false,"labelFont":"Liberation Sans","labelFontSize":23,"labelColor":"black","labelPadding":8,"tickColor":"black","tickSize":10,"tickWidth":1.5,"domainColor":"black","domainWidth":2,"gridColor":"#8a8a8a","gridWidth":1,"titleFont":"Liberation Sans","titleFontSize":39,"titleFontWeight":"normal","titleColor":"black","titlePadding":14}},
"y":{"field":"c","type":"quantitative","scale":{"domain":[0,1.5],"nice":false,"zero":true},"axis":{"title":"Coverage (x w.d.)","values":[0,0.25,0.5,0.75,1,1.25,1.5],"format":".2f","labelFlush":false,"labelOverlap":false,"labelFont":"Liberation Sans","labelFontSize":23,"labelColor":"black","labelPadding":9,"tickColor":"black","tickSize":11,"tickWidth":1.5,"domainColor":"black","domainWidth":2,"gridColor":"#8a8a8a","gridWidth":1,"titleFont":"Liberation Sans","titleFontSize":41.5,"titleFontWeight":"normal","titleColor":"black","titlePadding":21}}
}}
